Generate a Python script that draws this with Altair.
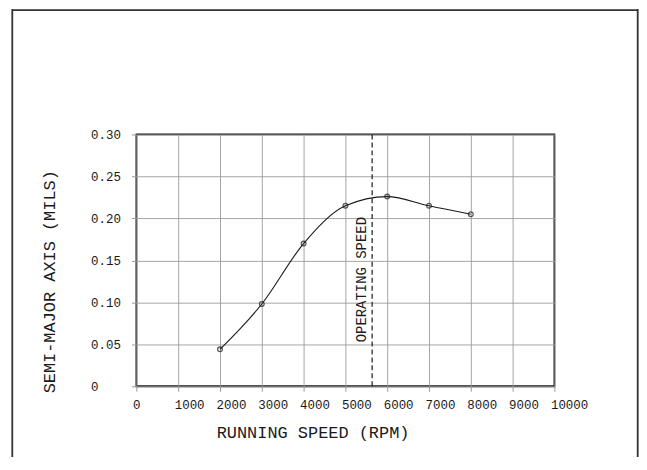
import altair as alt
import pandas as pd

speed_rpm = [2000, 3000, 4000, 5000, 6000, 7000, 8000]
semi_major_mils = [0.044, 0.098, 0.170, 0.215, 0.226, 0.215, 0.205]
operating_speed = [5640]
operating_label = ["OPERATING SPEED"]
label_level = [0.127]
x_ticks = [0, 1000, 2000, 3000, 4000, 5000, 6000, 7000, 8000, 9000, 10000]
y_ticks = [0, 0.05, 0.10, 0.15, 0.20, 0.25, 0.30]

FONT = "Liberation Mono"
INK = "#1a1a1a"
GRID = "#9a9a9a"

df = pd.DataFrame({"rpm": speed_rpm, "mils": semi_major_mils})
op = pd.DataFrame({"rpm": operating_speed, "mils": label_level, "label": operating_label})

x_enc = alt.X(
    "rpm:Q",
    scale=alt.Scale(domain=[0, 10000], nice=False),
    axis=alt.Axis(
        values=x_ticks, format="d", grid=True, gridColor=GRID, gridWidth=0.9,
        domain=False, ticks=True, tickSize=5, tickColor=GRID,
        labelFont=FONT, labelFontSize=12.5, labelColor=INK, labelAlign="left",
        labelBaseline="top", labelOffset=-4, labelPadding=7, labelFlush=False,
        labelOverlap=False,
        title="RUNNING SPEED (RPM)", titleFont=FONT, titleFontSize=17,
        titleFontWeight="normal", titleColor=INK, titleX=177, titleY=51,
        titleAlign="center", titleBaseline="alphabetic",
    ),
)
y_enc = alt.Y(
    "mils:Q",
    scale=alt.Scale(domain=[0, 0.30], nice=False),
    axis=alt.Axis(
        values=y_ticks, labelExpr="datum.value == 0 ? '0' : format(datum.value, '.2f')",
        grid=True, gridColor=GRID, gridWidth=0.9,
        domain=False, ticks=True, tickSize=5, tickColor=GRID,
        labelFont=FONT, labelFontSize=12.5, labelColor=INK, labelAlign="left",
        labelBaseline="middle", labelPadding=41, labelFlush=False, labelOverlap=False,
        title="SEMI-MAJOR AXIS (MILS)", titleFont=FONT, titleFontSize=17,
        titleFontWeight="normal", titleColor=INK, titleX=-82, titleY=147.5,
        titleAngle=270, titleAlign="center", titleBaseline="alphabetic",
    ),
)

curve = alt.Chart(df).mark_line(color=INK, strokeWidth=1.1, interpolate="monotone").encode(x=x_enc, y=y_enc)
pts = alt.Chart(df).mark_point(shape="circle", size=22, filled=False, color=INK, strokeWidth=1.3).encode(
    x="rpm:Q", y="mils:Q")

op_line = alt.Chart(op).mark_rule(color=INK, strokeWidth=1.2, strokeDash=[5, 3]).encode(
    x="rpm:Q", y=alt.value(0), y2=alt.value(253))
op_text = alt.Chart(op).mark_text(
    angle=270, align="center", baseline="alphabetic", dy=-6,
    font=FONT, fontSize=14, color=INK,
).encode(x="rpm:Q", y="mils:Q", text="label:N")

blank = alt.Data(values=[{}])
frame_left = alt.Chart(blank).mark_rule(color="#333", strokeWidth=1.8).encode(
    x=alt.value(-124.7), y=alt.value(-126), y2=alt.value(330))
frame_right = alt.Chart(blank).mark_rule(color="#333", strokeWidth=1.8).encode(
    x=alt.value(503.7), y=alt.value(-126), y2=alt.value(330))
frame_top = alt.Chart(blank).mark_rule(color="#333", strokeWidth=1.8).encode(
    x=alt.value(-124.7), x2=alt.value(503.7), y=alt.value(-125))

chart = alt.layer(
    frame_left, frame_right, frame_top, curve, op_line, pts, op_text
).properties(
    width=420, height=253,
    padding={"left": 129, "top": 126, "right": 85, "bottom": 70},
    autosize=alt.AutoSizeParams(type="none"),
    background="white",
).configure_view(stroke=INK, strokeWidth=1.8)

chart.save("out.html", embed_options={"renderer": "svg", "actions": False})
